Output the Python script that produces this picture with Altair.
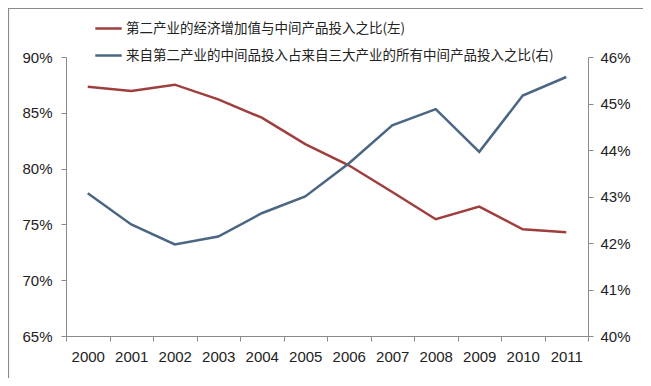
import altair as alt
import pandas as pd

years = ["2000", "2001", "2002", "2003", "2004", "2005", "2006", "2007", "2008", "2009", "2010", "2011"]
ratio_left = [0.8734, 0.8695, 0.8752, 0.8620, 0.8456, 0.8220, 0.8030, 0.7790, 0.7546, 0.7660, 0.7456, 0.7430]
ratio_right = [0.4307, 0.4240, 0.4197, 0.4214, 0.4264, 0.4300, 0.4371, 0.4453, 0.4488, 0.4396, 0.4517, 0.4557]

name_left = "第二产业的经济增加值与中间产品投入之比(左)"
name_right = "来自第二产业的中间品投入占来自三大产业的所有中间产品投入之比(右)"
left_ticks = [0.65, 0.70, 0.75, 0.80, 0.85, 0.90]
right_ticks = [0.40, 0.41, 0.42, 0.43, 0.44, 0.45, 0.46]

red = "#9E3F3E"
blue = "#4A6683"
axis_gray = "#8A8A8A"
font = "Liberation Sans"

df_left = pd.DataFrame({"year": years, "value": ratio_left, "series": name_left})
df_right = pd.DataFrame({"year": years, "value": ratio_right, "series": name_right})

color = alt.Color(
    "series:N",
    scale=alt.Scale(domain=[name_left, name_right], range=[red, blue]),
    legend=alt.Legend(
        title=None,
        orient="none",
        legendX=28,
        legendY=-43,
        symbolType="stroke",
        symbolSize=700,
        symbolStrokeWidth=2.5,
        labelFontSize=13.5,
        labelFont="Noto Sans CJK SC",
        labelColor="#222222",
        labelLimit=600,
        rowPadding=6,
        labelOffset=3,
    ),
)

x = alt.X(
    "year:O",
    scale=alt.Scale(type="band", domain=years, paddingInner=0, paddingOuter=0),
    axis=alt.Axis(
        title=None,
        labelAngle=0,
        tickBand="extent",
        domainColor=axis_gray,
        tickColor=axis_gray,
        tickSize=5,
        labelPadding=8,
        labelFontSize=15,
        labelFont=font,
        labelColor="#222222",
        grid=False,
    ),
)

line_left = alt.Chart(df_left).mark_line(strokeWidth=2.5).encode(
    x=x,
    y=alt.Y(
        "value:Q",
        scale=alt.Scale(domain=[0.65, 0.90], nice=False, zero=False),
        axis=alt.Axis(
            title=None,
            values=left_ticks,
            format=".0%",
            orient="left",
            domainColor=axis_gray,
            tickColor=axis_gray,
            tickSize=5,
            labelPadding=9,
            labelFontSize=15,
            labelFont=font,
            labelColor="#222222",
            grid=False,
        ),
    ),
    color=color,
)

line_right = alt.Chart(df_right).mark_line(strokeWidth=2.5).encode(
    x=x,
    y=alt.Y(
        "value:Q",
        scale=alt.Scale(domain=[0.40, 0.46], nice=False, zero=False),
        axis=alt.Axis(
            title=None,
            values=right_ticks,
            format=".0%",
            orient="right",
            domainColor=axis_gray,
            tickColor=axis_gray,
            tickSize=5,
            labelPadding=7,
            labelFontSize=15,
            labelFont=font,
            labelColor="#222222",
            grid=False,
        ),
    ),
    color=color,
)

frame = alt.Chart(pd.DataFrame({"k": [0]})).mark_rect(
    fill=None, stroke="#8A8A8A", strokeWidth=1.2
).encode(
    x=alt.value(-57.5), x2=alt.value(579), y=alt.value(-48.5), y2=alt.value(323)
)

chart = (
    alt.layer(line_left, line_right, frame)
    .resolve_scale(y="independent")
    .properties(
        width=522,
        height=279,
        autosize="none",
        padding={"left": 58, "top": 49, "right": 55, "bottom": 42},
        background="white",
    )
    .configure_view(stroke=None)
)

chart.save("out.html", embed_options={"renderer": "svg", "actions": False})
